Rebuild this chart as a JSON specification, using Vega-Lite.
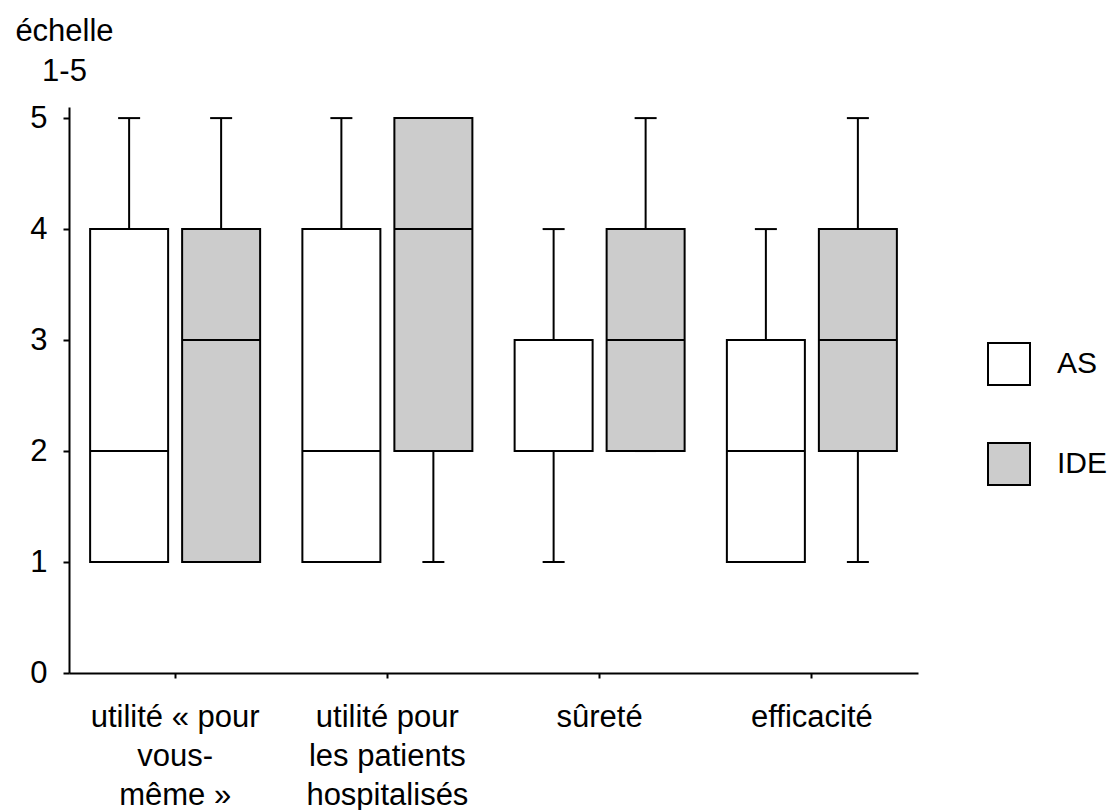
{
  "$schema": "https://vega.github.io/schema/vega-lite/v6.json",
  "width": 849,
  "height": 566,
  "autosize": {"type": "none"},
  "padding": {"left": 69, "top": 107, "right": 193, "bottom": 137},
  "background": "white",
  "config": {
    "view": {"stroke": null},
    "font": "Liberation Sans",
    "axis": {"domainColor": "black", "domainWidth": 2, "tickColor": "black", "tickWidth": 2, "labelColor": "black", "labelFont": "Liberation Sans", "labelFontSize": 31, "grid": false}
  },
  "data": {
    "values": [
      {"cat": "utilité « pour vous-même »", "group": "AS", "min": 1, "q1": 1, "median": 2, "q3": 4, "max": 5},
      {"cat": "utilité « pour vous-même »", "group": "IDE", "min": 1, "q1": 1, "median": 3, "q3": 4, "max": 5},
      {"cat": "utilité pour les patients hospitalisés", "group": "AS", "min": 1, "q1": 1, "median": 2, "q3": 4, "max": 5},
      {"cat": "utilité pour les patients hospitalisés", "group": "IDE", "min": 1, "q1": 2, "median": 4, "q3": 5, "max": 5},
      {"cat": "sûreté", "group": "AS", "min": 1, "q1": 2, "median": 2, "q3": 3, "max": 4},
      {"cat": "sûreté", "group": "IDE", "min": 2, "q1": 2, "median": 3, "q3": 4, "max": 5},
      {"cat": "efficacité", "group": "AS", "min": 1, "q1": 1, "median": 2, "q3": 3, "max": 4},
      {"cat": "efficacité", "group": "IDE", "min": 1, "q1": 2, "median": 3, "q3": 4, "max": 5}
    ]
  },
  "encoding": {
    "x": {
      "field": "cat", "type": "nominal",
      "sort": ["utilité « pour vous-même »", "utilité pour les patients hospitalisés", "sûreté", "efficacité"],
      "scale": {"paddingInner": 0, "paddingOuter": 0},
      "axis": {
        "title": null, "labelAngle": 0, "tickSize": 5, "labelPadding": 24, "labelLineHeight": 39,
        "labelBaseline": "top",
        "labelExpr": "datum.value == 'utilité « pour vous-même »' ? ['utilité « pour', 'vous-', 'même »'] : datum.value == 'utilité pour les patients hospitalisés' ? ['utilité pour', 'les patients', 'hospitalisés'] : datum.value"
      }
    },
    "xOffset": {"field": "group", "type": "nominal", "scale": {"domain": ["AS", "IDE"], "paddingInner": 0, "paddingOuter": 0.1535}}
  },
  "layer": [
    {
      "mark": {"type": "rule", "color": "black", "strokeWidth": 2},
      "encoding": {
        "y": {"field": "min", "type": "quantitative", "scale": {"domain": [0, 5.1], "nice": false},
          "axis": {"values": [0, 1, 2, 3, 4, 5], "format": "d", "tickSize": 6, "labelPadding": 16, "title": ["échelle", "1-5"], "titleAngle": 0, "titleAlign": "center", "titleBaseline": "alphabetic", "titleX": -5, "titleY": -67, "titleFont": "Liberation Sans", "titleFontSize": 31, "titleFontWeight": "normal", "titleColor": "black", "titleLineHeight": 40}},
        "y2": {"field": "max"}
      }
    },
    {
      "mark": {"type": "tick", "color": "black", "thickness": 2, "size": 22, "opacity": 1},
      "encoding": {"y": {"field": "min", "type": "quantitative"}}
    },
    {
      "mark": {"type": "tick", "color": "black", "thickness": 2, "size": 22, "opacity": 1},
      "encoding": {"y": {"field": "max", "type": "quantitative"}}
    },
    {
      "mark": {"type": "bar", "size": 78, "stroke": "black", "strokeWidth": 2, "opacity": 1},
      "encoding": {
        "y": {"field": "q1", "type": "quantitative"},
        "y2": {"field": "q3"},
        "fill": {
          "field": "group", "type": "nominal",
          "scale": {"domain": ["AS", "IDE"], "range": ["#ffffff", "#cccccc"]},
          "legend": {
            "title": null, "orient": "none", "legendX": 918, "legendY": 235, "padding": 0,
            "symbolType": "square", "symbolSize": 1764, "symbolStrokeColor": "black", "symbolStrokeWidth": 2, "symbolOpacity": 1,
            "labelFont": "Liberation Sans", "labelFontSize": 30, "labelColor": "black", "labelOffset": 26, "rowPadding": 50
          }
        }
      }
    },
    {
      "mark": {"type": "tick", "color": "black", "thickness": 2, "size": 78, "opacity": 1},
      "encoding": {"y": {"field": "median", "type": "quantitative"}}
    }
  ]
}
